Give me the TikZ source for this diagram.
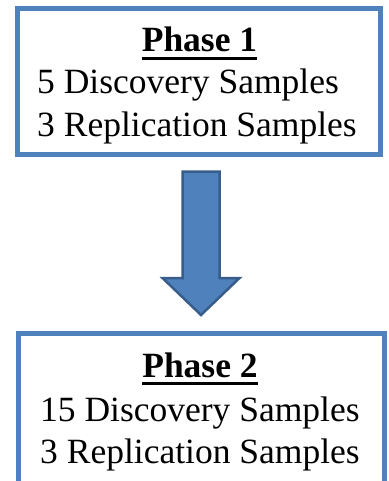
\documentclass[tikz,border=0pt]{standalone}
\usepackage{fontspec}
\setmainfont{Liberation Serif}
\usetikzlibrary{calc}

\definecolor{boxblue}{HTML}{4F81BD}
\definecolor{darkblue}{HTML}{385D8A}

\tikzset{
  phasebox/.style={draw=boxblue, line width=5pt, inner sep=0pt},
  phasetext/.style={inner sep=0pt, font=\fontsize{35.5}{43}\selectfont},
  titletext/.style={phasetext, font=\fontsize{35.5}{43}\selectfont\bfseries},
}

\begin{document}
\begin{tikzpicture}[x=1pt, y=-1pt]
  \useasboundingbox (0,0) rectangle (388,481);

  % Caja de la fase 1
  \node[phasebox, minimum width=363pt, minimum height=146pt] (phaseA) at (198.5,81.5) {};
  \node[titletext, anchor=base] (titleA) at (199.5,52) {Phase 1};
  \draw[line width=2.4pt] ([yshift=-6.5pt]titleA.base west) -- ([yshift=-6.5pt]titleA.base east);
  \node[phasetext, anchor=base west] (discA) at (37,94) {5 Discovery Samples};
  \node[phasetext, anchor=base west] (replA) at (37,137) {3 Replication Samples};

  % Caja de la fase 2
  \node[phasebox, minimum width=366pt, minimum height=150pt] (phaseB) at (201.5,408) {};
  \node[titletext, anchor=base] (titleB) at (200,377) {Phase 2};
  \draw[line width=2.4pt] ([yshift=-6.5pt]titleB.base west) -- ([yshift=-6.5pt]titleB.base east);
  \node[phasetext, anchor=base west] (discB) at (40,421) {15 Discovery Samples};
  \node[phasetext, anchor=base west] (replB) at (40,463) {3 Replication Samples};

  % Flecha
  \draw[darkblue, fill=boxblue, line width=2.5pt, line join=miter]
    (182.5,171.5) -- (219.5,171.5) -- (219.5,278) -- (239.5,278)
    -- (201,315) -- (162.5,278) -- (182.5,278) -- cycle;
\end{tikzpicture}
\end{document}
